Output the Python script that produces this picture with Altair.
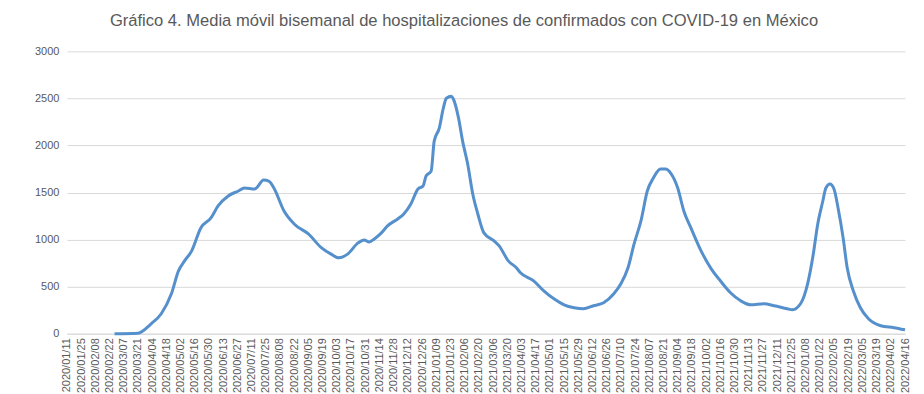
import altair as alt
import pandas as pd

# Data (two-week moving average of hospitalisations)
dates = [
    "2020-02-27", "2020-03-21", "2020-04-03", "2020-04-13", "2020-04-23", "2020-04-30",
    "2020-05-06", "2020-05-13", "2020-05-22", "2020-06-01", "2020-06-08", "2020-06-18",
    "2020-06-28", "2020-07-04", "2020-07-14", "2020-07-23", "2020-07-28", "2020-08-02",
    "2020-08-12", "2020-08-22", "2020-09-05", "2020-09-18", "2020-09-27", "2020-10-05",
    "2020-10-14", "2020-10-24", "2020-10-30", "2020-11-04", "2020-11-09", "2020-11-16",
    "2020-11-22", "2020-12-02", "2020-12-08", "2020-12-15", "2020-12-22", "2020-12-27",
    "2020-12-30", "2021-01-04", "2021-01-07", "2021-01-12", "2021-01-16", "2021-01-19",
    "2021-01-24", "2021-01-26", "2021-01-31", "2021-02-04", "2021-02-09", "2021-02-14",
    "2021-02-19", "2021-02-25", "2021-03-07", "2021-03-12", "2021-03-21", "2021-03-29",
    "2021-04-02", "2021-04-15", "2021-04-25", "2021-05-05", "2021-05-15", "2021-05-25",
    "2021-06-03", "2021-06-13", "2021-06-23", "2021-07-03", "2021-07-10", "2021-07-17",
    "2021-07-23", "2021-07-30", "2021-08-05", "2021-08-11", "2021-08-18", "2021-08-23",
    "2021-08-28", "2021-09-04", "2021-09-10", "2021-09-17", "2021-09-27", "2021-10-07",
    "2021-10-16", "2021-10-26", "2021-11-05", "2021-11-15", "2021-11-28", "2021-12-08",
    "2021-12-21", "2021-12-26", "2022-01-03", "2022-01-10", "2022-01-15", "2022-01-20",
    "2022-01-25", "2022-01-28", "2022-02-01", "2022-02-05", "2022-02-09", "2022-02-14",
    "2022-02-18", "2022-02-24", "2022-03-03", "2022-03-11", "2022-03-23", "2022-04-05",
    "2022-04-16",
]
values = [
    0, 5, 105, 212, 424, 668,
    774, 880, 1124, 1230, 1357, 1463,
    1516, 1548, 1537, 1632, 1622, 1548,
    1304, 1166, 1060, 912, 848, 806,
    848, 965, 996, 975, 1007, 1071,
    1145, 1219, 1272, 1378, 1537, 1569,
    1675, 1728, 2046, 2184, 2396, 2502,
    2523, 2491, 2290, 2046, 1802, 1484,
    1272, 1071, 986, 933, 774, 700,
    647, 562, 456, 371, 307, 276,
    265, 297, 329, 424, 530, 700,
    954, 1210, 1516, 1654, 1749, 1749,
    1707, 1548, 1304, 1124, 880, 689,
    562, 435, 350, 307, 318, 297,
    265, 254, 318, 530, 806, 1166,
    1410, 1548, 1590, 1537, 1336, 1018,
    700, 456, 276, 159, 85, 64,
    42,
]

tick_dates = [
    "2020-01-11", "2020-01-25", "2020-02-08", "2020-02-22", "2020-03-07", "2020-03-21",
    "2020-04-04", "2020-04-18", "2020-05-02", "2020-05-16", "2020-05-30", "2020-06-13",
    "2020-06-27", "2020-07-11", "2020-07-25", "2020-08-08", "2020-08-22", "2020-09-05",
    "2020-09-19", "2020-10-03", "2020-10-17", "2020-10-31", "2020-11-14", "2020-11-28",
    "2020-12-12", "2020-12-26", "2021-01-09", "2021-01-23", "2021-02-06", "2021-02-20",
    "2021-03-06", "2021-03-20", "2021-04-03", "2021-04-17", "2021-05-01", "2021-05-15",
    "2021-05-29", "2021-06-12", "2021-06-26", "2021-07-10", "2021-07-24", "2021-08-07",
    "2021-08-21", "2021-09-04", "2021-09-18", "2021-10-02", "2021-10-16", "2021-10-30",
    "2021-11-13", "2021-11-27", "2021-12-11", "2021-12-25", "2022-01-08", "2022-01-22",
    "2022-02-05", "2022-02-19", "2022-03-05", "2022-03-19", "2022-04-02", "2022-04-16",
]
y_ticks = [0, 500, 1000, 1500, 2000, 2500, 3000]

title = "Gráfico 4. Media móvil bisemanal de hospitalizaciones de confirmados con COVID-19 en México"


def dt(s):
    y, m, d = (int(p) for p in s.split("-"))
    return alt.DateTime(year=y, month=m, date=d, utc=True)


df = pd.DataFrame({"fecha": dates, "valor": values})

FONT = "Liberation Sans"
GRAY = "#595959"

chart = (
    alt.Chart(df)
    .mark_line(color="#5590cc", strokeWidth=3, interpolate="monotone")
    .encode(
        x=alt.X(
            "fecha:T",
            scale=alt.Scale(type="utc", domain=[dt(tick_dates[0]), dt(tick_dates[-1])]),
            axis=alt.Axis(
                values=[dt(s) for s in tick_dates],
                labelExpr="utcFormat(datum.value, '%Y/%m/%d')",
                labelAngle=-90,
                labelFontSize=11,
                labelColor=GRAY,
                labelFont=FONT,
                labelPadding=4,
                ticks=False,
                grid=False,
                domain=True,
                domainColor="#d9d9d9",
                labelOverlap=False,
                title=None,
            ),
        ),
        y=alt.Y(
            "valor:Q",
            scale=alt.Scale(domain=[0, 3000], nice=False),
            axis=alt.Axis(
                values=y_ticks,
                format="d",
                labelFontSize=11,
                labelColor=GRAY,
                labelFont=FONT,
                labelPadding=8,
                ticks=False,
                domain=False,
                gridColor="#d9d9d9",
                title=None,
            ),
        ),
    )
    .properties(
        width=840,
        height=283,
        title=alt.TitleParams(
            title, fontSize=16.6, font=FONT, color=GRAY, fontWeight="normal",
            anchor="middle", offset=16, dx=-22
        ),
        padding={"left": 26, "top": 4, "right": 5, "bottom": 0},
    )
    .configure_view(stroke=None)
)

chart.save("out.html", embed_options={"renderer": "svg", "actions": False})
